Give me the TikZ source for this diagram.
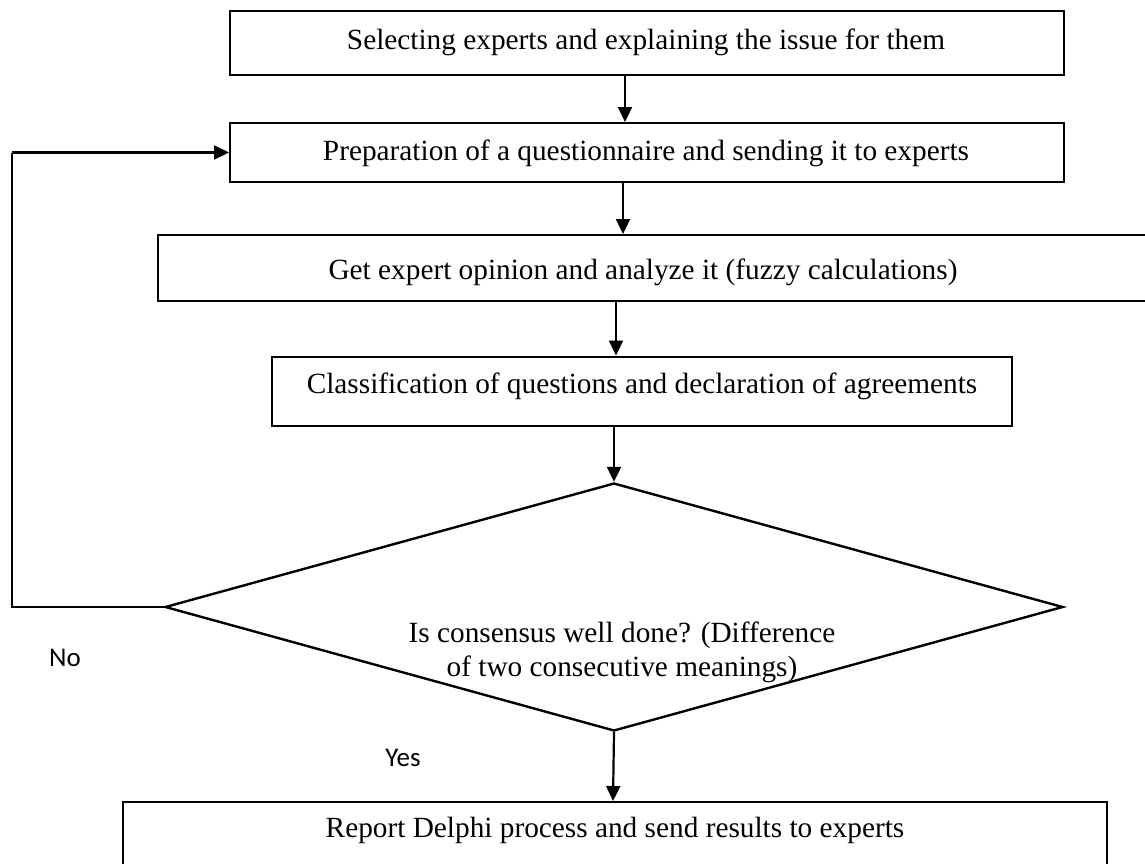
\documentclass[tikz,border=0pt]{standalone}
\usepackage{fontspec}
\setmainfont{Liberation Serif}
\newfontfamily\yesnofont{Carlito}
\usetikzlibrary{arrows.meta,shapes.geometric}
\tikzset{
  boxnode/.style={draw=black, line width=2pt, rectangle, inner sep=0pt, fill=none},
  txt/.style={inner sep=0pt, font=\fontsize{29.3}{34}\selectfont},
  lbl/.style={inner sep=0pt, font=\yesnofont\fontsize{27}{32}\selectfont},
  arr/.style={draw=black, line width=2.2pt, -{Triangle[length=15pt,width=14pt]}},
  plainline/.style={draw=black, line width=2.2pt},
  decide/.style={draw=black, line width=2.4pt, diamond, inner sep=0pt}
}
\begin{document}
\begin{tikzpicture}[x=1pt,y=-1pt]
\useasboundingbox (0,0) rectangle (1145,863);
% boxes
\node[boxnode, minimum width=834pt, minimum height=64pt] (b1) at (647,43) {};
\node[txt, anchor=base] (t1) at (646,49) {Selecting experts and explaining the issue for them};
\node[boxnode, minimum width=834pt, minimum height=59pt] (b2) at (647,152.5) {};
\node[txt, anchor=base] (t2) at (646,160) {Preparation of a questionnaire and sending it to experts};
\node[boxnode, minimum width=1002pt, minimum height=66pt] (b3) at (659,268) {};
\node[txt, anchor=base] (t3) at (643,279) {Get expert opinion and analyze it (fuzzy calculations)};
\node[boxnode, minimum width=740pt, minimum height=69pt] (b4) at (642,391) {};
\node[txt, anchor=base] (t4) at (642,393) {Classification of questions and declaration of agreements};
\node[decide, minimum width=898pt, minimum height=248pt] (d) at (614,607) {};
\node[txt, align=center] (td) at (622,652) {Is consensus well done? (Difference\\of two consecutive meanings)};
\node[boxnode, minimum width=984pt, minimum height=78pt] (b5) at (615,841) {};
\node[txt, anchor=base] (t5) at (615,837) {Report Delphi process and send results to experts};
% labels
\node[lbl] (no) at (65,658) {No};
\node[lbl] (yes) at (403,758) {Yes};
% guide coordinates
\coordinate (xa) at (625,0);
\coordinate (xb) at (623,0);
\coordinate (xc) at (616,0);
\coordinate (xd) at (613,0);
\coordinate (xl) at (12,0);
% connectors
\draw[arr] (b1.south -| xa) -- (b2.north -| xa);
\draw[arr] (b2.south -| xb) -- (b3.north -| xb);
\draw[arr] (b3.south -| xc) -- (b4.north -| xc);
\draw[arr] (b4.south -| d.north) -- (d.north);
\draw[arr] (d.south) -- (b5.north -| xd);
\draw[plainline] (d.west) -- (d.west -| xl) -- (xl |- b2.west);
\draw[arr] (xl |- b2.west) -- (b2.west);
\end{tikzpicture}
\end{document}
